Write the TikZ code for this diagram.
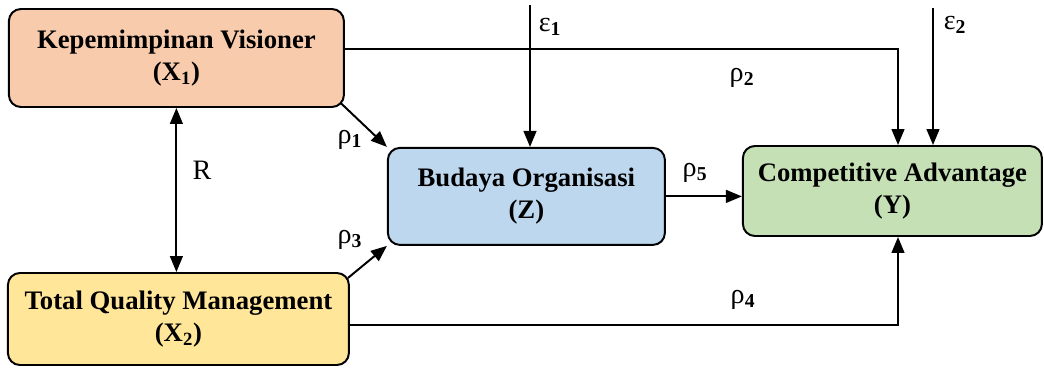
\documentclass[tikz,border=0pt]{standalone}
\usepackage{fontspec}
\setmainfont{Liberation Serif}
\usetikzlibrary{arrows.meta,positioning}
\definecolor{peach}{HTML}{F8CBAD}
\definecolor{skyblue}{HTML}{BDD7EE}
\definecolor{sage}{HTML}{C5E0B4}
\definecolor{butter}{HTML}{FFE699}
\newcommand{\sub}[1]{\textsubscript{\textbf{#1}}}

\begin{document}
\begin{tikzpicture}[line width=1.4pt,>={Triangle[length=4mm,width=3.2mm]},
box/.style={draw,rounded corners=3mm,align=center,inner sep=0pt,font=\fontsize{19}{23}\selectfont\bfseries},
lbl/.style={font=\fontsize{20}{22}\selectfont}]
\useasboundingbox (0,0) rectangle (26.1,-9.175);
\node[box,fill=peach,minimum width=8.375cm,minimum height=2.45cm] (X1) at (4.41,-1.45) {Kepemimpinan Visioner\\(X\textsubscript{1})};
\node[box,fill=butter,minimum width=8.525cm,minimum height=2.3cm] (X2) at (4.46,-7.975) {Total Quality Management\\(X\textsubscript{2})};
\node[box,fill=skyblue,minimum width=6.925cm,minimum height=2.425cm] (Z) at (13.16,-4.91) {Budaya Organisasi\\(Z)};
\node[box,fill=sage,minimum width=7.475cm,minimum height=2.25cm] (Y) at (22.31,-4.775) {Competitive Advantage\\(Y)};
\coordinate (e1) at (13.25,-0.12);
\coordinate (e2) at (23.325,-0.2);
% labels
\node[lbl] (le1) at (13.75,-0.675) {ε\sub{1}};
\node[lbl] (le2) at (23.875,-0.625) {ε\sub{2}};
\node[lbl] (r1) at (8.75,-3.5) {ρ\sub{1}};
\node[lbl] (r2) at (18.55,-1.95) {ρ\sub{2}};
\node[lbl] (r3) at (8.75,-6.0) {ρ\sub{3}};
\node[lbl] (r4) at (18.575,-7.5) {ρ\sub{4}};
\node[lbl] (r5) at (17.375,-4.325) {ρ\sub{5}};
\node[lbl] (rr) at (5.05,-4.25) {R};
% paths
\draw[->] (e1) -- (e1 |- Z.north);
\draw[->] (e2) -- (e2 |- Y.north);
\draw[->] ([shift={(-0.1,0.12)}]X1.south east) -- (Z.north west);
\draw[->] ([shift={(-0.05,-0.15)}]X2.north east) -- (Z.south west);
\draw[->] (Z.east) -- (Z.east -| Y.west);
\draw[->] ([yshift=2.2mm]X1.east) -| ([xshift=1.4mm]Y.north);
\draw[->] ([yshift=-1.5mm]X2.east) -| ([xshift=1.4mm]Y.south);
\draw[<->] (X1.south) -- (X1.south |- X2.north);
\end{tikzpicture}
\end{document}
